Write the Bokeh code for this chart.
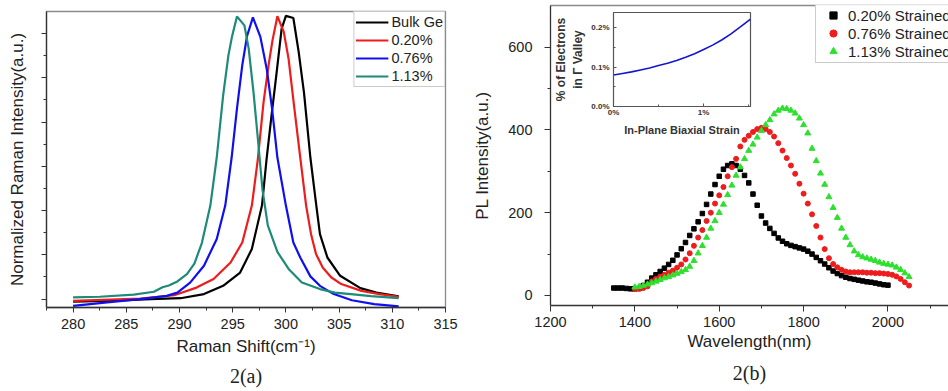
from bokeh.plotting import figure
from bokeh.models import (Range1d, FixedTicker, Legend, LegendItem, LinearAxis,
                          Title, PrintfTickFormatter, CustomJSTickFormatter)
from bokeh.embed import file_html
from bokeh.resources import INLINE

FONT = "Liberation Sans"

# ---------------- Panel 2(a): Raman spectra ----------------
bulk_x = [280, 284, 287.3, 290.1, 292.3, 294.1, 295.7, 296.8, 297.75, 298.2, 298.65, 299.1,
          299.6, 300.0, 300.7, 301.2, 301.7, 302.3, 302.8, 303.2, 303.9, 305.1, 307.0, 308.5, 310.6]
bulk_y = [-0.009, -0.005, 0.0, 0.003, 0.017, 0.045, 0.09, 0.17, 0.317, 0.48, 0.623, 0.759,
          0.917, 0.96, 0.953, 0.838, 0.70, 0.48, 0.334, 0.22, 0.141, 0.079, 0.037, 0.022, 0.009]

s020_x = [280, 286.3, 289.5, 291.6, 293.2, 294.8, 295.9, 296.8, 297.35, 297.9, 298.4, 298.74,
          299.2, 299.8, 300.25, 300.75, 301.35, 301.9, 302.36, 302.83, 303.46, 304.25, 305.2,
          307.1, 308.8, 310.6]
s020_y = [-0.006, 0.002, 0.013, 0.039, 0.068, 0.124, 0.192, 0.317, 0.47, 0.668, 0.80, 0.877,
          0.959, 0.906, 0.815, 0.66, 0.48, 0.317, 0.221, 0.153, 0.107, 0.074, 0.051,
          0.028, 0.017, 0.008]

s076_x = [280, 283.2, 286.3, 288.8, 289.8, 291.0, 292.3, 293.5, 294.3, 294.9, 295.4, 295.9,
          296.35, 296.9, 297.6, 298.2, 298.7, 299.2, 300.0, 300.7, 301.35, 302.3, 303.2, 304.5,
          306.2, 308.3, 310.6]
s076_y = [-0.023, -0.011, 0.0, 0.011, 0.022, 0.056, 0.113, 0.204, 0.317, 0.48, 0.646, 0.793,
          0.892, 0.955, 0.889, 0.78, 0.646, 0.48, 0.317, 0.192, 0.141, 0.077, 0.045, 0.017,
          -0.004, -0.017, -0.025]

s113_x = [280, 282.5, 285.7, 287.6, 288.4, 289.0, 289.8, 290.7, 291.4, 292.1, 292.9, 293.5,
          294.1, 294.6, 294.93, 295.4, 296.1, 296.5, 296.96, 297.4, 297.8, 298.3, 299.2, 300.3,
          301.5, 303.2, 304.6, 306.1, 308.0, 310.6]
s113_y = [0.006, 0.008, 0.015, 0.025, 0.040, 0.046, 0.060, 0.085, 0.12, 0.19, 0.317, 0.48,
          0.69, 0.827, 0.889, 0.958, 0.928, 0.85, 0.70, 0.53, 0.37, 0.25, 0.16, 0.10,
          0.056, 0.034, 0.022, 0.017, 0.010, 0.003]

raman_labels = ["Bulk Ge", "0.20%", "0.76%", "1.13%"]
raman_colors = ["#000000", "#ee1c1c", "#1010ee", "#1e8a78"]
raman_xticks = [280, 285, 290, 295, 300, 305, 310, 315]
raman_xminor = [277.5, 282.5, 287.5, 292.5, 297.5, 302.5, 307.5, 312.5]
raman_yticks = [0, 0.15, 0.30, 0.45, 0.60, 0.75, 0.90]
raman_yminor = [0.075, 0.225, 0.375, 0.525, 0.675, 0.825]

# ---------------- Panel 2(b): PL spectra ----------------
pl020_x = list(range(1350, 2010, 10))
pl020_y = [18, 18, 18, 17, 16, 16, 17, 24, 32, 42,
           50, 58, 66, 75, 85, 98, 113, 128, 145, 161,
           178, 198, 220, 245, 268, 288, 305, 314, 318, 314,
           305, 290, 272, 245, 218, 192, 175, 162, 150, 139,
           131, 125, 121, 118, 115, 112, 107, 100, 92, 84,
           76, 67, 59, 53, 48, 44, 41, 39, 37, 35,
           33, 32, 30, 28, 26, 25]
pl076_x = list(range(1400, 2060, 10))
pl076_y = [16, 16, 18, 22, 34, 40, 45, 50, 55, 60,
           67, 75, 87, 102, 120, 140, 158, 180, 200, 222,
           242, 262, 288, 310, 330, 360, 376, 386, 395, 402,
           405, 402, 395, 384, 368, 350, 332, 314, 294, 270,
           246, 222, 196, 168, 140, 112, 90, 76, 68, 62,
           58, 56, 56, 56, 56, 55, 55, 54, 54, 53,
           52, 50, 46, 40, 32, 24]
pl113_x = list(range(1400, 2060, 10))
pl113_y = [20, 21, 24, 27, 30, 34, 38, 42, 45, 49,
           53, 57, 62, 70, 84, 102, 120, 140, 162, 180,
           200, 220, 243, 266, 290, 310, 330, 350, 365, 382,
           398, 412, 424, 438, 447, 452, 451, 447, 440, 428,
           412, 392, 355, 325, 295, 268, 238, 212, 188, 162,
           140, 122, 107, 98, 93, 90, 87, 84, 80, 77,
           75, 73, 68, 62, 54, 45]
assert len(pl020_x) == len(pl020_y)
assert len(pl076_x) == len(pl076_y)
assert len(pl113_x) == len(pl113_y)

pl_labels = ["0.20% Strained", "0.76% Strained", "1.13% Strained"]
pl_colors = ["#000000", "#ee1c1c", "#2ee02e"]
pl_xticks = [1200, 1400, 1600, 1800, 2000, 2200]
pl_xminor = [1300, 1500, 1700, 1900, 2100]
pl_yticks = [0, 200, 400, 600]
pl_yminor = [100, 300, 500]

# ---------------- Inset ----------------
inset_x = [0, 0.1, 0.2, 0.3, 0.4, 0.5, 0.6, 0.7, 0.8, 0.9, 1.0, 1.1, 1.2, 1.3, 1.4, 1.52]
inset_y = [0.080, 0.084, 0.088, 0.093, 0.098, 0.104, 0.110, 0.117, 0.125, 0.134, 0.145,
           0.156, 0.169, 0.184, 0.201, 0.222]
inset_xticks = [0, 1]
inset_xminor = [0.5, 1.5]
inset_yticks = [0, 0.1, 0.2]
inset_yminor = [0.05, 0.15]

captions = ["2(a)", "2(b)"]

AX = "#333333"


def base_axis(ax, tick_out=5, minor_out=3):
    ax.axis_line_color = AX
    ax.axis_line_width = 1.3
    ax.major_tick_line_color = AX
    ax.minor_tick_line_color = AX
    ax.major_tick_in = 0
    ax.major_tick_out = tick_out
    ax.minor_tick_in = 0
    ax.minor_tick_out = minor_out
    ax.major_label_text_font = FONT
    ax.major_label_text_font_size = "14.5px"
    ax.major_label_text_color = "#222222"
    ax.axis_label_text_font = FONT
    ax.axis_label_text_font_size = "17px"
    ax.axis_label_text_font_style = "normal"
    ax.axis_label_text_color = "#222222"


def caption(p, text, standoff):
    p.add_layout(Title(text=text, align="center", text_font="Liberation Serif",
                       text_font_size="20px", text_font_style="normal", text_color="#222222",
                       standoff=standoff), "below")


# ----- figure (a) -----
p1 = figure(width=470, height=391, x_range=Range1d(277.5, 315), y_range=Range1d(-0.0285, 0.975),
            output_backend="svg", toolbar_location=None, title_location=None,
            min_border_left=46, min_border_right=25, min_border_top=11, min_border_bottom=84)
p1.grid.visible = False
p1.outline_line_color = "#8a8a8a"
p1.outline_line_width = 1.3
base_axis(p1.xaxis[0])
base_axis(p1.yaxis[0])
p1.xaxis[0].ticker = FixedTicker(ticks=raman_xticks, minor_ticks=raman_xminor)
p1.yaxis[0].ticker = FixedTicker(ticks=raman_yticks, minor_ticks=raman_yminor)
p1.yaxis[0].formatter = CustomJSTickFormatter(code="return ''")
p1.yaxis[0].major_label_text_color = None
p1.yaxis[0].major_label_standoff = 0
p1.yaxis[0].axis_label = "Normalized Raman Intensity(a.u.)"
p1.yaxis[0].axis_label_standoff = 15
p1.xaxis[0].major_label_standoff = 6
p1.xaxis[0].axis_label = "Raman Shift(cm\u207b\u00b9)"
p1.xaxis[0].axis_label_standoff = 5

rr = []
for xs, ys, c in zip([bulk_x, s020_x, s076_x, s113_x], [bulk_y, s020_y, s076_y, s113_y], raman_colors):
    rr.append(p1.line(xs, ys, line_color=c, line_width=2.2))

leg1 = Legend(items=[LegendItem(label=l, renderers=[r]) for l, r in zip(raman_labels, rr)],
              location="top_right", margin=0, padding=1, spacing=0,
              glyph_width=33, glyph_height=18, label_height=18, label_standoff=3,
              label_text_font=FONT, label_text_font_size="14.5px", label_text_color="#222222",
              border_line_color="#9a9a9a", border_line_width=1)
p1.add_layout(leg1)
caption(p1, captions[0], 8)

# ----- figure (b) -----
p2 = figure(width=478, height=391, x_range=Range1d(1200, 2143.5), y_range=Range1d(-24.2, 700.5),
            output_backend="svg", toolbar_location=None, title_location=None,
            min_border_left=77, min_border_right=0, min_border_top=5, min_border_bottom=86,
            styles={"position": "absolute", "left": "470px", "top": "0px", "z-index": "2"})
p2.grid.visible = False
p2.outline_line_color = None
base_axis(p2.xaxis[0], tick_out=6)
base_axis(p2.yaxis[0], tick_out=6)
p2.xaxis[0].ticker = FixedTicker(ticks=pl_xticks, minor_ticks=pl_xminor)
p2.yaxis[0].ticker = FixedTicker(ticks=pl_yticks, minor_ticks=pl_yminor)
p2.yaxis[0].major_label_standoff = 12
p2.yaxis[0].axis_label = "PL Intensity(a.u.)"
p2.yaxis[0].axis_label_standoff = 13
p2.xaxis[0].major_label_standoff = 5
p2.xaxis[0].axis_label = "Wavelength(nm)"
p2.xaxis[0].axis_label_standoff = 2

top_ax = LinearAxis(ticker=FixedTicker(ticks=[]), major_tick_out=0, major_tick_in=0,
                    minor_tick_out=0, minor_tick_in=0, major_label_standoff=0,
                    axis_line_color="#8a8a8a", axis_line_width=1.3)
p2.add_layout(top_ax, "above")

r_a = p2.scatter(pl020_x, pl020_y, marker="square", size=4.5, color=pl_colors[0])
r_b = p2.scatter(pl076_x, pl076_y, marker="circle", size=5, color=pl_colors[1])
r_c = p2.scatter(pl113_x, pl113_y, marker="triangle", size=6, color=pl_colors[2])
leg2 = Legend(items=[LegendItem(label=l, renderers=[r]) for l, r in zip(pl_labels, [r_a, r_b, r_c])],
              location=(265, 242), margin=0, padding=2, spacing=0,
              glyph_width=30, glyph_height=18, label_height=18, label_standoff=0,
              label_text_font=FONT, label_text_font_size="15px", label_text_color="#222222",
              border_line_color="#9a9a9a", border_line_width=1)
p2.add_layout(leg2)
caption(p2, captions[1], 13)

# ----- inset -----
inset = figure(frame_width=137, frame_height=94, x_range=Range1d(0, 1.52), y_range=Range1d(0, 0.239),
               output_backend="svg", toolbar_location=None, title_location=None,
               min_border_left=63, min_border_right=10, min_border_top=12, min_border_bottom=34,
               styles={"position": "absolute", "left": "550px", "top": "0px", "z-index": "5"})
inset.grid.visible = False
inset.background_fill_color = None
inset.border_fill_color = None
inset.outline_line_color = "#555555"
inset.outline_line_width = 1.2
for ax in (inset.xaxis[0], inset.yaxis[0]):
    ax.axis_line_color = "#555555"
    ax.major_tick_line_color = "#555555"
    ax.minor_tick_line_color = "#555555"
    ax.major_tick_in = 3
    ax.major_tick_out = 0
    ax.minor_tick_in = 2
    ax.minor_tick_out = 0
    ax.major_label_text_font = FONT
    ax.major_label_text_font_size = "8px"
    ax.major_label_text_font_style = "bold"
    ax.major_label_text_color = "#333333"
    ax.axis_label_text_font = FONT
    ax.axis_label_text_font_style = "bold"
    ax.axis_label_text_color = "#333333"
inset.xaxis[0].ticker = FixedTicker(ticks=inset_xticks, minor_ticks=inset_xminor)
inset.yaxis[0].ticker = FixedTicker(ticks=inset_yticks, minor_ticks=inset_yminor)
inset.xaxis[0].formatter = PrintfTickFormatter(format="%d%%")
inset.yaxis[0].formatter = PrintfTickFormatter(format="%.1f%%")
inset.xaxis[0].major_label_standoff = 1
inset.yaxis[0].major_label_standoff = 4
inset.xaxis[0].axis_label = "In-Plane Biaxial Strain"
inset.xaxis[0].axis_label_text_font_size = "11px"
inset.xaxis[0].axis_label_standoff = 4
try:
    inset.xaxis[0].axis_label_align = "left"
except Exception:
    pass
inset.yaxis[0].axis_label = "% of Electrons\nin \u0393 Valley"
inset.yaxis[0].axis_label_text_font_size = "12px"
inset.yaxis[0].axis_label_standoff = 3
inset.line(inset_x, inset_y, line_color="#1515d0", line_width=1.6)

open("out.html", "w").write(file_html([p1, p2, inset], INLINE))
